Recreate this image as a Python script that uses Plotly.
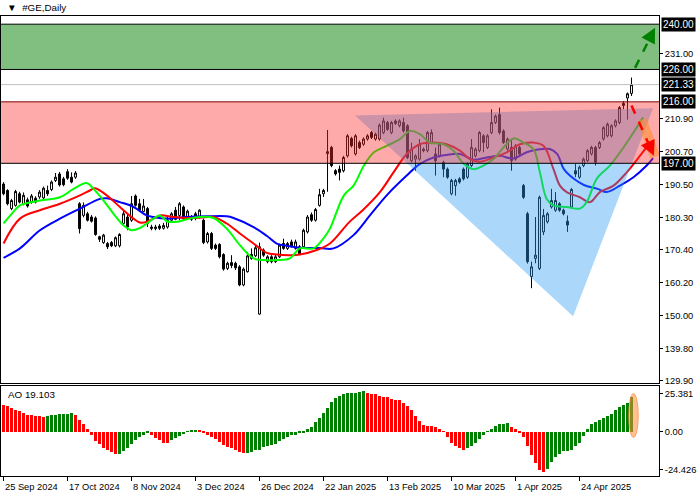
import plotly.graph_objects as go

# ---------------- data ----------------
date_labels = ["25 Sep 2024", "17 Oct 2024", "8 Nov 2024", "3 Dec 2024", "26 Dec 2024",
               "22 Jan 2025", "13 Feb 2025", "10 Mar 2025", "1 Apr 2025", "24 Apr 2025"]
date_bars = [0, 16, 32, 48, 64, 80, 96, 112, 128, 144]

opens = [
    190.6, 188.6, 183.0, 184.0, 187.6, 184.5, 185.7, 185.0, 186.2, 186.6,
    186.3, 188.6, 188.9, 191.7, 193.7, 192.2, 194.4, 192.7, 192.7, 184.5,
    180.9, 181.4, 180.4, 180.1, 174.3, 172.5, 172.2, 172.5, 171.5, 171.5,
    178.4, 180.4, 179.4, 186.9, 184.5, 182.1, 183.0, 177.3, 176.8, 177.6,
    176.9, 177.3, 179.4, 182.5, 180.9, 183.5, 179.9, 180.4, 181.4, 180.4,
    179.4, 172.7, 175.3, 171.7, 171.9, 168.8, 164.5, 166.3, 166.1, 165.0,
    159.4, 163.5, 168.8, 168.4, 150.4, 170.2, 166.6, 168.1, 166.6, 168.1,
    172.2, 170.7, 172.7, 170.7, 171.2, 171.2, 175.8, 181.1, 179.4, 184.0,
    187.6, 200.0, 201.9, 194.7, 195.2, 194.7, 199.3, 204.7, 199.9, 203.4,
    202.9, 204.5, 206.5, 204.5, 204.5, 206.5, 209.6, 206.5, 210.1, 208.6,
    209.6, 208.6, 197.8, 198.3, 198.3, 201.4, 200.9, 203.4, 199.9, 199.3,
    197.3, 195.2, 187.6, 190.1, 192.2, 195.2, 192.7, 196.3, 199.3, 200.9,
    205.5, 201.9, 206.5, 209.6, 212.1, 207.0, 201.4, 201.9, 198.3, 201.9,
    190.1, 181.4, 162.0, 167.6, 164.5, 175.8, 178.9, 183.5, 182.5, 184.5,
    182.5, 179.1, 183.5, 194.7, 192.7, 196.3, 197.8, 199.9, 201.9, 201.9,
    204.5, 205.5, 205.5, 208.6, 209.6, 215.5, 217.2, 218.6,
]
highs = [
    191.2, 189.0, 186.0, 188.8, 188.2, 188.0, 186.4, 187.5, 186.8, 188.7,
    189.8, 190.1, 191.7, 194.0, 194.3, 192.8, 195.2, 194.2, 194.6, 185.0,
    184.9, 182.0, 181.0, 180.6, 174.6, 175.2, 172.7, 173.0, 174.4, 175.4,
    182.4, 181.4, 186.9, 187.4, 186.0, 186.0, 183.5, 178.0, 178.0, 178.2,
    178.6, 180.4, 181.9, 183.5, 185.0, 184.0, 182.7, 181.0, 182.0, 182.8,
    179.9, 175.8, 175.8, 172.2, 172.3, 169.2, 166.6, 168.6, 166.6, 165.5,
    164.8, 169.6, 170.7, 171.6, 172.5, 170.7, 168.6, 168.6, 168.8, 172.2,
    173.7, 172.7, 173.4, 173.4, 171.7, 176.8, 181.0, 181.8, 183.2, 189.1,
    189.1, 207.3, 202.4, 195.2, 196.3, 199.3, 206.0, 205.2, 206.0, 204.0,
    205.0, 206.0, 207.0, 206.5, 209.3, 211.1, 210.1, 210.1, 210.6, 210.6,
    211.1, 209.1, 203.4, 199.8, 204.5, 201.9, 207.0, 207.5, 201.9, 203.4,
    197.8, 195.7, 192.2, 192.2, 192.7, 195.7, 197.3, 204.5, 201.9, 207.0,
    206.0, 206.0, 213.7, 212.1, 214.2, 207.5, 205.0, 204.5, 202.9, 202.4,
    190.6, 182.0, 166.6, 180.4, 187.0, 182.9, 181.9, 189.1, 188.1, 185.0,
    183.0, 180.9, 189.4, 196.8, 196.3, 198.8, 201.4, 202.4, 202.4, 203.9,
    208.5, 209.6, 209.1, 210.6, 214.7, 216.2, 218.9, 223.5,
]
lows = [
    187.1, 184.0, 182.5, 183.6, 184.6, 184.0, 183.3, 184.5, 184.6, 186.0,
    185.8, 186.9, 188.4, 191.2, 189.8, 189.9, 191.9, 190.8, 192.2, 175.3,
    180.3, 179.0, 178.7, 174.6, 172.7, 172.1, 170.5, 171.1, 171.1, 171.0,
    177.9, 176.3, 178.9, 183.6, 182.0, 181.9, 177.3, 176.3, 176.3, 176.4,
    176.5, 176.8, 179.0, 179.4, 179.4, 179.4, 179.5, 179.2, 179.4, 179.9,
    172.0, 172.2, 170.2, 170.2, 167.6, 163.8, 164.0, 164.6, 164.0, 159.0,
    159.0, 163.2, 167.2, 168.0, 150.2, 168.1, 166.1, 166.1, 166.2, 167.7,
    170.3, 170.2, 171.0, 170.3, 168.7, 170.8, 175.3, 178.9, 179.0, 183.6,
    186.6, 188.2, 195.8, 193.2, 191.7, 194.2, 198.8, 201.9, 199.4, 201.4,
    202.4, 204.0, 204.5, 204.0, 204.0, 206.0, 207.0, 206.0, 208.8, 208.1,
    206.5, 198.3, 197.3, 194.7, 197.8, 200.4, 200.4, 202.9, 193.2, 198.8,
    192.7, 192.2, 187.1, 187.0, 190.7, 191.7, 192.2, 195.8, 198.8, 200.4,
    200.4, 201.4, 206.0, 209.1, 205.9, 203.0, 200.9, 194.7, 197.8, 199.4,
    186.0, 166.0, 158.4, 166.1, 164.0, 174.8, 178.4, 183.0, 182.0, 182.0,
    180.9, 175.8, 183.0, 192.7, 192.2, 195.8, 197.3, 199.4, 196.3, 201.4,
    204.0, 205.0, 205.0, 208.1, 209.1, 213.7, 210.5, 217.8,
]
closes = [
    187.6, 184.5, 185.5, 188.3, 185.0, 187.1, 183.8, 186.9, 185.0, 188.1,
    189.3, 187.6, 191.2, 192.7, 190.3, 190.4, 192.4, 191.2, 194.0, 176.8,
    184.0, 179.4, 179.1, 175.0, 173.5, 174.8, 171.2, 171.5, 174.0, 175.0,
    181.4, 177.3, 184.5, 184.0, 182.5, 183.8, 178.4, 176.9, 177.3, 176.9,
    177.8, 179.4, 181.4, 179.7, 184.5, 179.9, 182.2, 179.7, 179.9, 182.5,
    172.5, 175.3, 170.7, 170.7, 168.1, 164.3, 166.1, 165.4, 164.7, 159.4,
    164.3, 168.4, 167.6, 170.9, 171.2, 168.6, 168.1, 166.6, 168.1, 171.7,
    170.7, 172.2, 171.5, 172.7, 169.1, 176.3, 180.4, 179.4, 182.7, 187.3,
    188.6, 200.6, 196.3, 193.7, 194.2, 198.8, 205.5, 202.4, 205.5, 201.9,
    204.5, 205.5, 205.0, 206.0, 208.8, 210.1, 207.5, 209.6, 209.3, 210.1,
    207.0, 198.8, 201.4, 199.3, 202.9, 200.9, 206.5, 206.5, 197.8, 202.9,
    195.2, 192.7, 191.7, 191.7, 191.2, 192.2, 196.8, 201.9, 201.4, 206.5,
    203.4, 205.5, 209.6, 211.6, 206.5, 203.4, 204.5, 197.8, 202.4, 199.9,
    186.5, 166.6, 165.0, 168.6, 186.5, 180.9, 181.4, 185.5, 185.5, 182.5,
    181.4, 177.9, 188.9, 193.7, 195.8, 198.3, 200.9, 201.9, 197.3, 203.4,
    208.0, 209.1, 208.6, 210.1, 214.2, 214.9, 218.5, 221.33,
]

# Alligator lines (bar position, price)
jaw_x = [0, 4.1, 9.1, 14.1, 19.1, 24.1, 25.8, 29.1, 32.5, 35.8, 37.5, 40.8, 45.8, 50.8, 55.8,
         57.5, 62.5, 65.8, 68.3, 70.8, 74.1, 79.1, 82.5, 87.5, 91.6, 95.8, 100.8, 104.1, 107.5,
         110.8, 114.1, 117.5, 120.8, 124.1, 127.5, 130.8, 133.3, 136.6, 138.4, 140.1, 142.6,
         145.1, 148.5, 150.8, 154.1, 157.5, 160.8, 162.4]
jaw_y = [167.8, 170.7, 176.3, 179.9, 183.0, 186.0, 186.2, 185.0, 183.5, 180.9, 180.4, 179.9, 180.4,
         180.6, 180.6, 180.1, 177.3, 174.6, 172.2, 171.5, 170.9, 170.8, 170.7, 174.8, 180.9, 187.1,
         193.2, 196.8, 198.8, 199.6, 199.9, 198.1, 198.8, 199.3, 198.5, 200.4, 201.2, 201.4, 199.9,
         195.2, 192.2, 190.3, 189.1, 188.1, 190.1, 192.7, 196.3, 198.6]
teeth_x = [0, 4.1, 9.1, 14.1, 19.1, 21.6, 22.9, 25.8, 29.1, 32.5, 34.1, 35.8, 37.5, 39.1, 42.5,
           45.8, 49.1, 52.5, 55.8, 59.1, 62.5, 65.8, 68.3, 71.6, 74.1, 78.3, 81.6, 86.5, 89.8,
           94.1, 97.5, 100.8, 104.1, 107.5, 110.8, 114.1, 116.6, 119.1, 122.5, 125.8, 129.1,
           132.5, 135.0, 137.5, 139.1, 140.8, 144.1, 146.6, 149.1, 152.5, 155.8, 159.1, 161.6]
teeth_y = [172.2, 179.9, 182.5, 184.5, 187.1, 188.6, 189.3, 187.1, 183.5, 179.9, 178.7, 178.9,
           179.9, 180.9, 180.4, 180.1, 180.2, 180.4, 178.4, 175.3, 172.2, 169.3, 168.8, 168.6,
           168.8, 170.2, 172.2, 178.9, 182.5, 188.1, 194.2, 199.9, 202.9, 203.4, 202.9, 200.9,
           198.3, 197.5, 198.8, 200.4, 202.9, 203.4, 202.4, 195.2, 190.1, 188.1, 186.5, 185.0,
           188.1, 190.1, 194.2, 199.3, 203.4]
lips_x = [0, 2.4, 4.1, 9.1, 14.1, 17.5, 20.8, 22.5, 25.0, 27.5, 30.0, 32.0, 34.1, 35.8, 37.5,
          39.1, 40.8, 43.3, 45.8, 49.1, 52.5, 55.8, 59.1, 62.5, 65.0, 68.3, 71.6, 74.1, 77.5,
          80.0, 81.6, 85.1, 87.5, 90.1, 92.6, 95.8, 99.1, 101.6, 104.1, 106.6, 110.0, 112.5,
          115.1, 117.5, 120.0, 122.5, 125.0, 127.5, 130.0, 132.5, 134.1, 135.8, 137.5, 140.8,
          144.1, 145.8, 148.3, 151.6, 155.0, 157.5, 159.9]
lips_y = [178.4, 181.9, 184.0, 185.5, 186.5, 189.1, 190.9, 189.1, 185.5, 181.4, 177.8, 176.3,
          177.0, 178.4, 179.9, 180.9, 179.1, 178.9, 179.7, 180.4, 180.1, 176.8, 171.7, 167.6,
          167.1, 167.1, 167.6, 170.7, 170.7, 173.8, 176.8, 187.1, 190.1, 196.3, 200.4, 202.4,
          204.5, 207.0, 206.0, 203.4, 202.9, 200.9, 196.8, 195.2, 196.3, 198.3, 201.9, 204.7,
          203.4, 201.4, 194.2, 186.0, 184.0, 183.5, 183.0, 185.0, 192.2, 196.3, 201.9, 206.5,
          211.2]

ao_values = [
    14.6, 14.5, 13.4, 12.3, 11.4, 10.5, 9.6, 9.5, 9.0, 8.5,
    8.4, 8.7, 9.4, 9.6, 9.7, 9.8, 10.1, 10.2, 9.4, 6.8,
    4.2, 1.3, -1.7, -5.0, -6.8, -9.0, -10.3, -11.4, -12.3, -12.0,
    -10.7, -9.0, -6.8, -4.6, -2.8, -1.7, -0.9, -1.8, -3.5, -4.6,
    -5.9, -6.0, -4.6, -3.5, -2.4, -1.3, 0.2, 0.5, 0.8, 0.6,
    -0.5, -1.7, -2.8, -4.2, -5.7, -7.2, -8.3, -9.2, -10.3, -11.4,
    -11.8, -11.7, -11.2, -10.1, -9.9, -8.5, -7.6, -7.2, -6.8, -5.3,
    -4.1, -2.8, -2.0, -1.5, -0.9, -0.2, 1.5, 2.9, 5.2, 7.9,
    10.5, 13.4, 16.8, 18.8, 19.9, 21.0, 21.3, 21.4, 21.7, 22.2,
    22.4, 21.7, 21.2, 20.8, 20.1, 19.5, 19.4, 18.4, 17.9, 17.8,
    16.2, 14.5, 12.3, 8.5, 6.2, 4.0, 3.5, 3.4, 2.9, 1.8,
    0.4, -3.1, -6.4, -8.1, -9.2, -10.1, -9.2, -7.6, -5.9, -4.2,
    -2.0, 0.4, 1.8, 3.5, 4.5, 4.6, 4.7, 2.9, 1.3, -0.5,
    -3.1, -8.1, -12.9, -17.5, -21.2, -22.3, -20.6, -16.8, -14.2, -12.0,
    -10.7, -10.6, -10.1, -8.1, -5.9, -2.4, 1.8, 4.6, 5.2, 6.3,
    7.9, 9.0, 10.1, 12.3, 14.0, 15.1, 16.2, 19.103,
]

price_ticks = [231.00, 210.90, 200.70, 190.50, 180.30, 170.40, 160.20, 150.00, 139.80, 129.90]
level_prices = [240.00, 226.00, 221.33, 216.00, 197.00]
ao_labels = ["25.381", "0.00", "-24.426"]

# ---------------- figure ----------------
FONT = "Liberation Sans"
FS = 9.3
bars = list(range(len(opens)))
ao_colors = ["#ff0000" if i == 0 or v < ao_values[i - 1] else "#008000" for i, v in enumerate(ao_values)]

fig = go.Figure()
fig.add_trace(go.Scatter(x=jaw_x, y=jaw_y, mode="lines", line=dict(color="#0000ff", width=2, shape="spline"),
                         hoverinfo="skip", showlegend=False))
fig.add_trace(go.Scatter(x=teeth_x, y=teeth_y, mode="lines", line=dict(color="#ff0000", width=2, shape="spline"),
                         hoverinfo="skip", showlegend=False))
fig.add_trace(go.Scatter(x=lips_x, y=lips_y, mode="lines", line=dict(color="#00ff00", width=2, shape="spline"),
                         hoverinfo="skip", showlegend=False))
fig.add_trace(go.Candlestick(
    x=bars, open=opens, high=highs, low=lows, close=closes,
    increasing=dict(line=dict(color="black", width=1), fillcolor="white"),
    decreasing=dict(line=dict(color="black", width=1), fillcolor="black"),
    whiskerwidth=0, showlegend=False))
fig.add_trace(go.Bar(x=bars, y=ao_values, marker=dict(color=ao_colors, line=dict(width=0)), width=0.72,
                     xaxis="x2", yaxis="y2", showlegend=False))

XR = [-0.625, 163.875]
XD = [0.0015, 0.9414]
ax_common = dict(showgrid=False, zeroline=False, showline=True, mirror=True, linecolor="black", linewidth=1)
fig.update_layout(
    width=700, height=500, margin=dict(l=0, r=0, t=0, b=0),
    paper_bgcolor="white", plot_bgcolor="white", bargap=0,
    font=dict(family=FONT, size=FS, color="black"),
    xaxis=dict(domain=XD, range=XR, anchor="y", showticklabels=False, ticks="",
               rangeslider=dict(visible=False), **ax_common),
    yaxis=dict(domain=[0.23, 0.968], range=[129.19, 242.56], side="right", anchor="x",
               tickvals=price_ticks, ticktext=[f"{v:.2f}" for v in price_ticks],
               ticks="outside", ticklen=3, tickcolor="black", **ax_common),
    xaxis2=dict(domain=XD, range=XR, anchor="y2", tickvals=date_bars, showticklabels=False,
                ticks="outside", ticklen=4, tickcolor="black", **ax_common),
    yaxis2=dict(domain=[0.043, 0.224], range=[-24.426, 25.381], side="right", anchor="x2",
                tickvals=[21.16, 0, -20.9], ticktext=ao_labels,
                ticks="outside", ticklen=3, tickcolor="black", **ax_common),
)

shapes = []
# triangle (drawn first, beneath the red zone tint)
shapes.append(dict(type="path", xref="x", yref="y", layer="above",
                   path="M 87.9,211.8 L 162.4,214.0 L 142.4,149.7 Z",
                   fillcolor="rgba(43,155,243,0.4)", line=dict(width=0)))
# red/pink zone
shapes.append(dict(type="rect", xref="paper", yref="y", x0=XD[0], x1=XD[1], y0=197.0, y1=216.0,
                   layer="above", fillcolor="rgba(255,43,43,0.4)", line=dict(width=0)))
# green zone
shapes.append(dict(type="rect", xref="paper", yref="y", x0=XD[0], x1=XD[1], y0=226.0, y1=240.0,
                   layer="above", fillcolor="rgb(129,191,129)", line=dict(width=0)))
# level lines
for lv, col in [(240.0, "black"), (226.0, "black"), (216.0, "#800000"), (197.0, "black"), (221.33, "#c0c0c0")]:
    shapes.append(dict(type="line", xref="paper", yref="y", x0=XD[0], x1=XD[1], y0=lv, y1=lv,
                       layer="above", line=dict(color=col, width=1)))
# orange highlight band near the red arrow
shapes.append(dict(type="line", xref="x", yref="y", x0=159.6, y0=210.5, x1=162.9, y1=199.0, layer="above",
                   line=dict(color="rgba(255,140,40,0.55)", width=10)))
# dashed arrow bodies
shapes.append(dict(type="line", xref="x", yref="y", x0=157.9, y0=226.5, x1=162.2, y1=237.2, layer="above",
                   line=dict(color="#008000", width=2.5, dash="dash")))
shapes.append(dict(type="line", xref="x", yref="y", x0=157.0, y0=214.9, x1=162.0, y1=201.0, layer="above",
                   line=dict(color="#ff0000", width=2.5, dash="dash")))
# AO highlight ellipse
shapes.append(dict(type="circle", xref="x2", yref="y2", x0=156.3, x1=158.7, y0=-3.3, y1=21.0, layer="above",
                   fillcolor="rgba(255,140,60,0.55)", line=dict(color="rgba(255,140,60,0.7)", width=1)))
fig.update_layout(shapes=shapes)

ann = []
# arrow heads
ann.append(dict(x=162.9, y=238.9, xref="x", yref="y", ax=161.6, ay=235.8, axref="x", ayref="y",
                showarrow=True, arrowhead=2, arrowsize=1.2, arrowwidth=2.5, arrowcolor="#008000", text=""))
ann.append(dict(x=162.6, y=199.3, xref="x", yref="y", ax=161.2, ay=203.2, axref="x", ayref="y",
                showarrow=True, arrowhead=2, arrowsize=1.2, arrowwidth=2.5, arrowcolor="#ff0000", text=""))
# level labels
for lv in level_prices:
    ann.append(dict(x=0.9443, y=lv, xref="paper", yref="y", xanchor="left", yanchor="middle",
                    text=f"{lv:.2f}", showarrow=False, bgcolor="black",
                    font=dict(color="white", size=FS + 0.7, family=FONT), borderpad=1))
# date labels
for b, t in zip(date_bars, date_labels):
    ann.append(dict(x=b - 0.2, y=0.034, xref="x2", yref="paper", xanchor="left", yanchor="top",
                    text=t, showarrow=False, font=dict(size=FS, family=FONT)))
# titles
ann.append(dict(x=0.007, y=0.984, xref="paper", yref="paper", xanchor="left", yanchor="middle",
                text="\u25bc  #GE,Daily", showarrow=False, font=dict(size=FS + 0.5, family=FONT)))
ann.append(dict(x=0.009, y=0.206, xref="paper", yref="paper", xanchor="left", yanchor="middle",
                text="AO 19.103", showarrow=False, font=dict(size=FS + 0.5, family=FONT)))
fig.update_layout(annotations=ann)

fig.write_html("out.html", config={"displayModeBar": False},
               post_script="document.body.style.margin='0px';document.body.style.overflow='hidden';")
